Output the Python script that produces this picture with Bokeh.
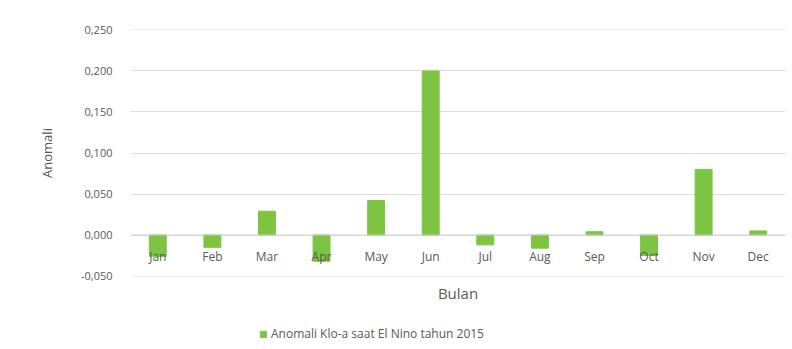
from bokeh.plotting import figure
from bokeh.layouts import column
from bokeh.models import ColumnDataSource, CustomJSTickFormatter, Range1d, FixedTicker, Legend, LegendItem, Span
from bokeh.core.properties import value
from bokeh.embed import file_html
from bokeh.resources import INLINE

months = ["Jan", "Feb", "Mar", "Apr", "May", "Jun", "Jul", "Aug", "Sep", "Oct", "Nov", "Dec"]
anomali = [-0.026, -0.015, 0.029, -0.032, 0.042, 0.200, -0.012, -0.016, 0.004, -0.025, 0.080, 0.005]
y_ticks = [-0.05, 0.0, 0.05, 0.10, 0.15, 0.20, 0.25]
series_name = "Anomali Klo-a saat El Nino tahun 2015"

FONT = "Open Sans"
GRAY = "#595959"
GREEN = "#7DC443"

src = ColumnDataSource(dict(month=months, val=anomali, zero=[0.0] * len(months)))

p = figure(x_range=months, y_range=Range1d(-0.0506, 0.2506), width=792, height=305,
           output_backend="svg", toolbar_location=None,
           min_border_left=130, min_border_right=7, min_border_top=29, min_border_bottom=28)
p.outline_line_color = None

r = p.vbar(x="month", top="val", bottom=0, width=0.31, source=src, color=GREEN)

# month labels drawn at y = 0, below the zero line (Excel-style)
p.text(x="month", y="zero", text="month", source=src, text_font=value(FONT),
       text_font_size="12px", text_color=GRAY, text_align="center", text_baseline="middle",
       y_offset=21)

p.add_layout(Span(location=0, dimension="width", line_color="#d0d0d0", line_width=1))

# y axis
p.yaxis.ticker = FixedTicker(ticks=y_ticks)
p.yaxis.formatter = CustomJSTickFormatter(code="return tick.toFixed(3).replace('.', ',');")
p.yaxis.axis_line_color = None
p.yaxis.major_tick_line_color = None
p.yaxis.minor_tick_line_color = None
p.yaxis.major_label_text_font = FONT
p.yaxis.major_label_text_font_size = "11px"
p.yaxis.major_label_text_color = GRAY
p.yaxis.major_label_standoff = 12
p.yaxis.axis_label = "Anomali"
p.yaxis.axis_label_text_font = FONT
p.yaxis.axis_label_text_font_size = "13px"
p.yaxis.axis_label_text_font_style = "normal"
p.yaxis.axis_label_text_color = GRAY
p.yaxis.axis_label_standoff = 22

# x axis: only its title "Bulan"
p.xaxis.axis_line_color = None
p.xaxis.major_tick_line_color = None
p.xaxis.minor_tick_line_color = None
p.xaxis.major_label_text_alpha = 0
p.xaxis.major_label_text_font_size = "1px"
p.xaxis.major_label_standoff = 0
p.xaxis.axis_label = "Bulan"
p.xaxis.axis_label_text_font = FONT
p.xaxis.axis_label_text_font_size = "15px"
p.xaxis.axis_label_text_font_style = "normal"
p.xaxis.axis_label_text_color = GRAY
p.xaxis.axis_label_standoff = 0

p.xgrid.grid_line_color = None
p.ygrid.grid_line_color = "#dedede"
p.ygrid.grid_line_width = 1

# legend strip (its frame is aligned with the main frame by the column layout);
# the same series is drawn there but outside the visible y range, only to feed the legend glyph
p2 = figure(width=792, height=44, output_backend="svg", toolbar_location=None,
            x_range=months, y_range=Range1d(1, 2),
            min_border=0, min_border_left=0, min_border_right=0, min_border_top=0, min_border_bottom=0)
p2.axis.visible = False
p2.grid.visible = False
p2.outline_line_color = None
lr = p2.vbar(x="month", top="val", bottom=0, width=0.31, source=src, color=GREEN)
legend = Legend(items=[LegendItem(label=series_name, renderers=[lr])], orientation="horizontal",
                location=(129, 7), border_line_color=None, background_fill_alpha=0,
                label_text_font=FONT, label_text_font_size="12px", label_text_color=GRAY,
                glyph_width=8, glyph_height=8, label_standoff=4, padding=2, margin=0)
p2.add_layout(legend)

layout = column(p, p2, spacing=0)
open("out.html", "w").write(file_html(layout, INLINE))
